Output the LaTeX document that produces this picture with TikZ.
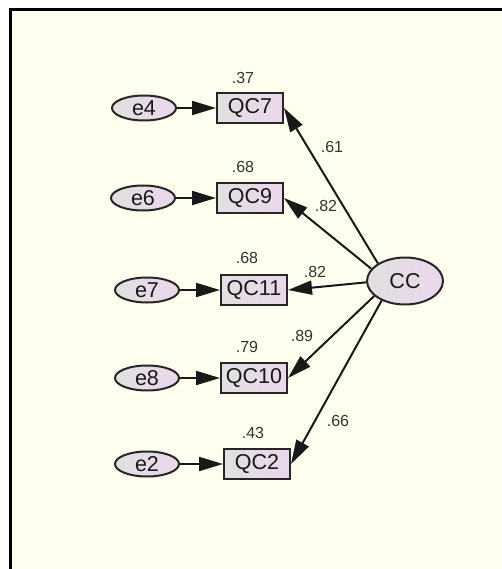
\documentclass[tikz,border=0pt]{standalone}
\usepackage{fontspec}
\setmainfont{Liberation Sans}
\usetikzlibrary{arrows.meta,shapes.geometric}
\definecolor{bgivory}{RGB}{255,255,240}
\definecolor{gleft}{RGB}{224,224,224}
\definecolor{pright}{RGB}{236,214,236}
\definecolor{txt}{RGB}{25,25,25}
\tikzset{
  obsbox/.style={draw=black!85, line width=2pt, rectangle, minimum width=66pt, minimum height=30pt,
    inner sep=0pt, left color=gleft, right color=pright, font=\fontsize{21.5}{21.5}\selectfont, text=txt},
  errell/.style={draw=black!85, line width=2pt, ellipse, minimum width=64pt, minimum height=25pt,
    inner sep=0pt, left color=gleft, right color=pright, font=\fontsize{21.5}{21.5}\selectfont, text=txt},
  latell/.style={draw=black!85, line width=2pt, ellipse, minimum width=76pt, minimum height=47pt,
    inner sep=0pt, left color=gleft, right color=pright, font=\fontsize{21.5}{21.5}\selectfont, text=txt},
  coef/.style={font=\fontsize{16}{16}\selectfont, text=black!80, inner sep=0pt},
  path/.style={line width=2pt, draw=black!90, -{Triangle[length=24pt,width=14pt]}}
}
\begin{document}
\begin{tikzpicture}[x=1pt,y=-1pt]
\useasboundingbox (0,0) rectangle (502,569);
\fill[white] (0,0) rectangle (502,569);
\fill[bgivory] (10,10) rectangle (502,569);
\draw[line width=3pt] (10,569) -- (10,10) -- (502,10);

\node[obsbox] (QC7) at (250,108) {QC7};
\node[obsbox] (QC9) at (250,198) {QC9};
\node[obsbox] (QC11) at (254,290) {QC11};
\node[obsbox] (QC10) at (254,378) {QC10};
\node[obsbox] (QC2) at (257,464) {QC2};

\node[errell] (e4) at (144,108) {e4};
\node[errell] (e6) at (143,198) {e6};
\node[errell] (e7) at (147,290) {e7};
\node[errell] (e8) at (147,378) {e8};
\node[errell] (e2) at (147,464) {e2};

\node[latell] (CC) at (405,281) {CC};

\draw[path] (e4.east) -- (QC7.west);
\draw[path] (e6.east) -- (QC9.west);
\draw[path] (e7.east) -- (QC11.west);
\draw[path] (e8.east) -- (QC10.west);
\draw[path] (e2.east) -- (QC2.west);

\draw[path] (CC.147) -- (QC7.east);
\draw[path] (CC.160) -- (QC9.east);
\draw[path] (CC.182) -- (QC11.east);
\draw[path] (CC.206) -- (QC10.east);
\draw[path] (CC.220) -- (QC2.east);

\node[coef] (r7) at (243,78) {.37};
\node[coef] (r9) at (243,167) {.68};
\node[coef] (r11) at (247,258) {.68};
\node[coef] (r10) at (247,347) {.79};
\node[coef] (r2) at (253,433) {.43};

\node[coef] (w7) at (332,147) {.61};
\node[coef] (w9) at (326,206) {.82};
\node[coef] (w11) at (315,272) {.82};
\node[coef] (w10) at (302,336) {.89};
\node[coef] (w2) at (338,421) {.66};
\end{tikzpicture}
\end{document}
